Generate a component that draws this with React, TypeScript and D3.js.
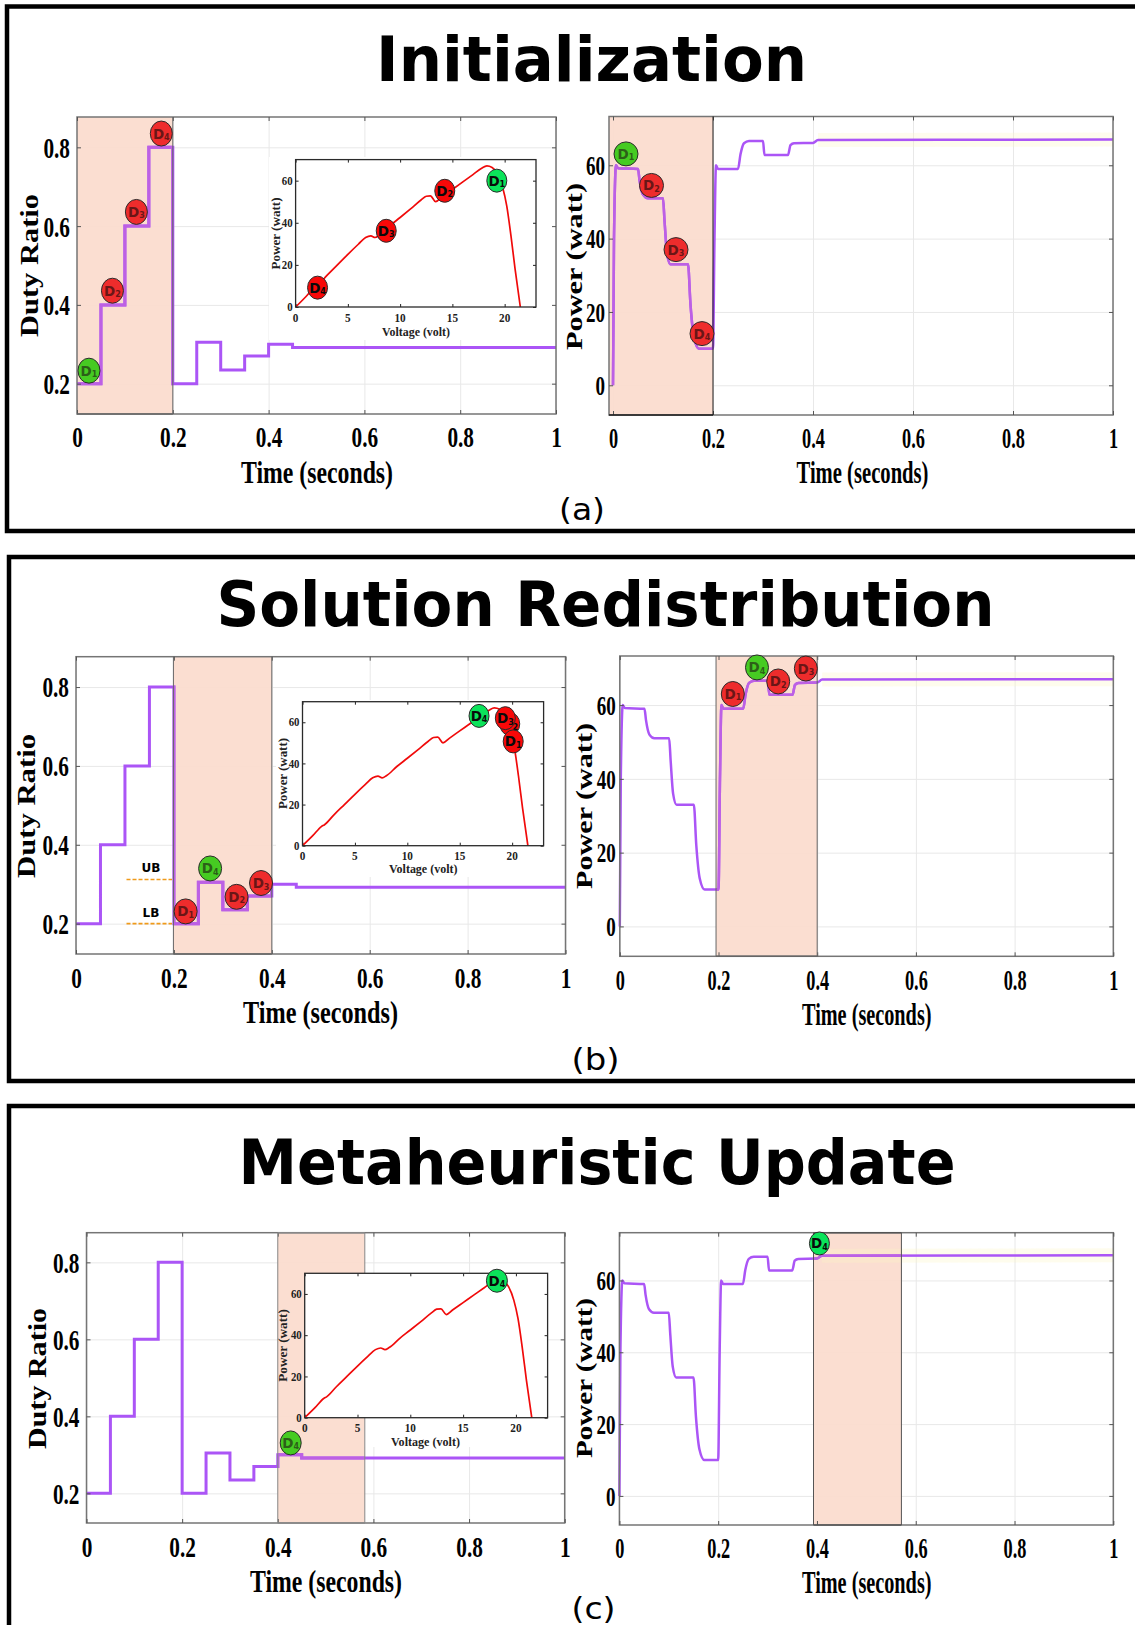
import { useEffect, useRef } from "react"
import * as d3 from "d3"

// values
const dutyTimes = [0, 0.05, 0.1, 0.15, 0.2, 0.25, 0.3, 0.35, 0.4, 0.45, 1]
const dutyValues = [0.2, 0.4, 0.6, 0.8, 0.2, 0.305, 0.235, 0.27, 0.3, 0.292, 0.292]

const powerTimes = [0, 0.002, 0.006, 0.01, 0.05, 0.053, 0.06, 0.07, 0.1, 0.103, 0.108, 0.115, 0.15, 0.155, 0.162, 0.172, 0.2, 0.203, 0.206, 0.21, 0.25, 0.255, 0.262, 0.272, 0.3, 0.303, 0.35, 0.355, 0.362, 0.4, 0.41, 1]
const powerValues = [0, 40, 60, 59.2, 59, 56, 52, 51, 51, 45, 36, 33, 33, 22, 13, 10, 10, 40, 60, 59, 59, 63, 66, 66.6, 66.6, 62.8, 62.8, 65.5, 66, 66.1, 66.9, 67]

const pvVoltage = [0, 1, 1.8, 2.1, 3, 4, 5, 6, 6.7, 7.2, 7.6, 8, 9, 10, 11, 12, 12.5, 12.9, 13.4, 14, 15, 16, 17, 17.8, 18.3, 18.8, 19.3, 19.8, 20.2, 20.6, 21, 21.5]
const pvPower = [0, 5, 9.3, 10.2, 15, 20, 25, 29.8, 33, 33.8, 33, 34, 38.5, 42.5, 46.6, 50.8, 52.6, 52.8, 50, 52.2, 55.8, 59.4, 63, 65.9, 67, 66.3, 63.5, 57, 48, 34, 18, 0]

const timeTicks = [0, 0.2, 0.4, 0.6, 0.8, 1]
const dutyTicks = [0.2, 0.4, 0.6, 0.8]
const powerTicks = [0, 20, 40, 60]
const voltTicks = [0, 5, 10, 15, 20]

const initDutyDots = [
    { n: "1", x: 0.025, y: 0.233, good: true },
    { n: "2", x: 0.074, y: 0.436 },
    { n: "3", x: 0.124, y: 0.636 },
    { n: "4", x: 0.176, y: 0.835 },
]
const initPowerDots = [
    { n: "1", x: 0.026, y: 63.1, good: true },
    { n: "2", x: 0.077, y: 54.5 },
    { n: "3", x: 0.126, y: 37 },
    { n: "4", x: 0.178, y: 14.1 },
]
const initPvDots = [
    { n: "4", x: 2.1, y: 9.2 },
    { n: "3", x: 8.67, y: 36.2 },
    { n: "2", x: 14.27, y: 55.2 },
    { n: "1", x: 19.25, y: 60, good: true },
]
const redistDutyDots = [
    { n: "1", x: 0.224, y: 0.231 },
    { n: "4", x: 0.274, y: 0.34, good: true },
    { n: "2", x: 0.328, y: 0.268 },
    { n: "3", x: 0.378, y: 0.303 },
]
const redistPowerDots = [
    { n: "1", x: 0.229, y: 63 },
    { n: "4", x: 0.278, y: 70.2, good: true },
    { n: "2", x: 0.321, y: 66.4 },
    { n: "3", x: 0.377, y: 69.9 },
]
const redistPvDots = [
    { n: "4", x: 16.84, y: 63.1, good: true },
    { n: "2", x: 19.77, y: 59.2 },
    { n: "3", x: 19.35, y: 62 },
    { n: "1", x: 20.1, y: 50.7 },
]
const updateDutyDots = [{ n: "4", x: 0.427, y: 0.331, good: true }]
const updatePowerDots = [{ n: "4", x: 0.405, y: 70.3, good: true }]
const updatePvDots = [{ n: "4", x: 18.2, y: 66.4, good: true }]

const upperBound = 0.312
const lowerBound = 0.2

const SERIF = "'Liberation Serif', serif"
const SANS = "'DejaVu Sans', sans-serif"
const PURPLE = "#ab55f6"
const PURPLE_BAND = "#bd60e4"

// ------ helpers ------

function squeezed(g, str, x, y, len, size, opts: any = {}) {
    const t = g.append("text")
        .attr("font-family", opts.family || SERIF)
        .attr("font-weight", opts.weight || "bold")
        .attr("font-size", size)
        .attr("fill", opts.fill || "#000")
        .attr("textLength", len)
        .attr("lengthAdjust", "spacingAndGlyphs")
        .text(str)
    if (opts.rotate) {
        t.attr("transform", `translate(${x},${y}) rotate(-90)`)
    } else {
        t.attr("x", x).attr("y", y)
    }
    return t
}

function drawDots(g, dots, x, y, rx, ry, bright) {
    dots.forEach(d => {
        const cx = x(d.x)
        const cy = y(d.y)
        const fill = d.good ? (bright ? "#0be35a" : "#46cb22") : (bright ? "#f80808" : "#ee2c2c")
        const ink = bright ? "#0a0a0a" : (d.good ? "#2c5f18" : "#6a1616")
        g.append("ellipse")
            .attr("cx", cx).attr("cy", cy)
            .attr("rx", rx).attr("ry", ry)
            .attr("fill", fill)
            .attr("stroke", "#2b2b2b")
            .attr("stroke-width", 1)
        const t = g.append("text")
            .attr("x", cx)
            .attr("y", cy + 5)
            .attr("text-anchor", "middle")
            .attr("font-family", SANS)
            .attr("font-weight", "bold")
            .attr("font-size", 13.5)
            .attr("fill", ink)
        t.append("tspan").text("D")
        t.append("tspan").attr("font-size", 8).attr("dy", 1.5).text(d.n)
    })
}

function frameTicks(g, x, y, box, color, len) {
    const pieces = [
        [d3.axisTop(x).tickValues(x.tickList), `translate(0,${box.top})`, -len],
        [d3.axisBottom(x).tickValues(x.tickList), `translate(0,${box.bottom})`, -len],
        [d3.axisLeft(y).tickValues(y.tickList), `translate(${box.left},0)`, -len],
        [d3.axisRight(y).tickValues(y.tickList), `translate(${box.right},0)`, -len],
    ]
    pieces.forEach(([axis, tr, size]: any) => {
        const a = g.append("g").attr("transform", tr)
            .call(axis.tickSize(size).tickFormat(() => ""))
        a.select(".domain").remove()
        a.selectAll(".tick line").attr("stroke", color).attr("stroke-width", 1)
    })
}

// one time-series panel: grid, band, inset background, curve, labels
function drawPanel(svg, p) {
    const g = svg.append("g")
    const { left, right, top, bottom } = p.box
    const x = d3.scaleLinear().domain(p.xDomain).range([left, right])
    const y = d3.scaleLinear().domain(p.yDomain).range([bottom, top])
    ;(x as any).tickList = timeTicks
    ;(y as any).tickList = p.yTicks

    g.append("rect")
        .attr("x", left).attr("y", top)
        .attr("width", right - left).attr("height", bottom - top)
        .attr("fill", "#fff")

    const xAxis = g.append("g")
        .attr("transform", `translate(0,${bottom})`)
        .call(d3.axisBottom(x).tickValues(timeTicks).tickFormat(d3.format("~g")).tickSize(-(bottom - top)))
    xAxis.select(".domain").remove()
    xAxis.selectAll(".tick line").attr("stroke", "#e8e8e8")
    xAxis.selectAll(".tick text")
        .attr("y", p.xLabelY - bottom)
        .attr("dy", 0)
        .attr("font-family", SERIF)
        .attr("font-weight", "bold")
        .attr("font-size", p.xLabelSize)
        .attr("fill", "#000")
        .attr("transform", `scale(${p.xLabelSqueeze},1)`)

    const yAxis = g.append("g")
        .attr("transform", `translate(${left},0)`)
        .call(d3.axisLeft(y).tickValues(p.yTicks).tickFormat(d3.format("~g")).tickSize(-(right - left)))
    yAxis.select(".domain").remove()
    yAxis.selectAll(".tick line").attr("stroke", "#e8e8e8")
    yAxis.selectAll(".tick text")
        .attr("x", -p.yLabelGap / p.yLabelSqueeze)
        .attr("dy", p.yLabelSize * 0.33)
        .attr("font-family", SERIF)
        .attr("font-weight", "bold")
        .attr("font-size", p.yLabelSize)
        .attr("fill", "#000")
        .attr("transform", `scale(${p.yLabelSqueeze},1)`)

    // shaded phase window
    const bx0 = x(p.band[0])
    const bx1 = x(p.band[1])
    g.append("rect")
        .attr("x", bx0).attr("y", top)
        .attr("width", bx1 - bx0).attr("height", bottom - top)
        .attr("fill", "#fbdbcd")
        .attr("fill-opacity", 0.92)

    if (p.inset) {
        p.inset.wipes.forEach(w => {
            g.append("rect")
                .attr("x", w[0]).attr("y", w[1])
                .attr("width", w[2] - w[0]).attr("height", w[3] - w[1])
                .attr("fill", "#fff")
        })
    }

    const line = d3.line().x(d => x(d[0])).y(d => y(d[1])).curve(p.curve)
    const pts = d3.zip(p.xs, p.ys)

    if (p.noiseFrom !== undefined) {
        g.append("path")
            .attr("d", line(pts.filter(d => d[0] >= p.noiseFrom)))
            .attr("fill", "none")
            .attr("stroke", "#fbf6c4")
            .attr("stroke-opacity", 0.3)
            .attr("stroke-width", 14)
    }

    g.append("path")
        .attr("d", line(pts))
        .attr("fill", "none")
        .attr("stroke", PURPLE)
        .attr("stroke-width", p.lineWidth)

    const clipId = `band-${p.id}`
    svg.append("clipPath").attr("id", clipId).append("rect")
        .attr("x", bx0).attr("y", top)
        .attr("width", bx1 - bx0).attr("height", bottom - top)
    g.append("path")
        .attr("d", line(pts))
        .attr("clip-path", `url(#${clipId})`)
        .attr("fill", "none")
        .attr("stroke", PURPLE_BAND)
        .attr("stroke-width", p.lineWidth)

    g.append("rect")
        .attr("x", left).attr("y", top)
        .attr("width", right - left).attr("height", bottom - top)
        .attr("fill", "none")
        .attr("stroke", "#757575")
        .attr("stroke-width", 1.5)
    frameTicks(g, x, y, p.box, "#555", 4)

    g.selectAll(".bandEdge")
        .data(p.bandEdges)
        .join("line")
        .attr("x1", d => x(d))
        .attr("x2", d => x(d))
        .attr("y1", top)
        .attr("y2", bottom)
        .attr("stroke", p.edgeColor)
        .attr("stroke-width", 1)
    ;(p.bandTopEdge ? [top, bottom] : [bottom]).forEach(yy => {
        g.append("line")
            .attr("x1", bx0).attr("x2", bx1)
            .attr("y1", yy).attr("y2", yy)
            .attr("stroke", p.edgeColor)
            .attr("stroke-width", 1.5)
    })

    if (p.bounds) {
        const bg = g.append("g")
        ;[upperBound, lowerBound].forEach(v => {
            bg.append("line")
                .attr("x1", p.bounds.x0).attr("x2", p.bounds.x1)
                .attr("y1", y(v)).attr("y2", y(v))
                .attr("stroke", "#f09a1a")
                .attr("stroke-width", 1.6)
                .attr("stroke-dasharray", "4 2")
        })
        ;[["UB", upperBound], ["LB", lowerBound]].forEach(([s, v]: any) => {
            bg.append("text")
                .attr("x", p.bounds.textX)
                .attr("y", y(v) - 7)
                .attr("text-anchor", "middle")
                .attr("font-family", SANS)
                .attr("font-weight", "bold")
                .attr("font-size", 12)
                .text(s)
        })
    }

    squeezed(svg, "Time (seconds)", p.xTitle[0], p.xTitle[1], p.xTitle[2], 31)
    squeezed(svg, p.yTitle.text, p.yTitle.x, p.yTitle.y, p.yTitle.len, p.yTitle.size, { rotate: true })

    drawDots(svg.append("g"), p.dots, x, y, p.dotR[0], p.dotR[1], p.brightDots)

    if (p.inset) drawInset(svg, p.inset)
}

function drawInset(svg, s) {
    const g = svg.append("g")
    const { left, right, top, bottom } = s.box
    const x = d3.scaleLinear().domain([0, 23]).range([left, right])
    const y = d3.scaleLinear().domain([0, 70]).range([bottom, top])
    ;(x as any).tickList = voltTicks
    ;(y as any).tickList = powerTicks

    g.append("rect")
        .attr("x", left).attr("y", top)
        .attr("width", right - left).attr("height", bottom - top)
        .attr("fill", "#fff")

    frameTicks(g, x, y, s.box, "#222", 3)

    const line = d3.line().x(d => x(d[0])).y(d => y(d[1])).curve(d3.curveMonotoneX)
    g.append("path")
        .attr("d", line(d3.zip(pvVoltage, pvPower)))
        .attr("fill", "none")
        .attr("stroke", "#f00a0a")
        .attr("stroke-width", 1.7)

    g.append("rect")
        .attr("x", left).attr("y", top)
        .attr("width", right - left).attr("height", bottom - top)
        .attr("fill", "none")
        .attr("stroke", "#2a2a2a")
        .attr("stroke-width", 1.3)

    const fmt = d3.format("~g")
    voltTicks.forEach(v => {
        const s2 = fmt(v)
        g.append("text")
            .attr("x", x(v)).attr("y", s.xTickY)
            .attr("text-anchor", "middle")
            .attr("font-family", SERIF)
            .attr("font-weight", "bold")
            .attr("font-size", 12.5)
            .attr("fill", "#222")
            .attr("textLength", s2.length * 5.6)
            .attr("lengthAdjust", "spacingAndGlyphs")
            .text(s2)
    })
    powerTicks.forEach(v => {
        const s2 = fmt(v)
        g.append("text")
            .attr("x", left - 3).attr("y", y(v) + 4.2)
            .attr("text-anchor", "end")
            .attr("font-family", SERIF)
            .attr("font-weight", "bold")
            .attr("font-size", 12.5)
            .attr("fill", "#222")
            .attr("textLength", s2.length * 5.4)
            .attr("lengthAdjust", "spacingAndGlyphs")
            .text(s2)
    })
    squeezed(g, "Voltage (volt)", s.xTitle[0], s.xTitle[1], s.xTitle[2], 13, { fill: "#222" })
    squeezed(g, "Power (watt)", s.yTitle[0], s.yTitle[1], s.yTitle[2], 12, { rotate: true, fill: "#222" })

    drawDots(g, s.dots, x, y, s.dotR[0], s.dotR[1], true)
}

// ------ panel layout ------

const dutyBase = { xs: dutyTimes, ys: dutyValues, yDomain: [0.123, 0.877], yTicks: dutyTicks, curve: d3.curveStepAfter, lineWidth: 3, xLabelSize: 30, xLabelSqueeze: 0.71, yLabelSize: 30, yLabelSqueeze: 0.71, yLabelGap: 7 }
const powerBase = { xs: powerTimes, ys: powerValues, yDomain: [-8.1, 73.3], yTicks: powerTicks, curve: d3.curveMonotoneX, lineWidth: 2.5, noiseFrom: 0.41, xLabelSize: 30, xLabelSqueeze: 0.61, yLabelSize: 28, yLabelSqueeze: 0.68, yLabelGap: 4, brightDots: false }

const panels = [
    {
        ...dutyBase, id: "a1",
        box: { left: 77, right: 556, top: 117, bottom: 414 }, xDomain: [0, 1],
        band: [0, 0.2], bandEdges: [0.2], edgeColor: "#666", dots: initDutyDots, dotR: [11, 12.5],
        xLabelY: 447, xTitle: [241, 483, 152],
        yTitle: { text: "Duty Ratio", x: 38, y: 337, len: 143, size: 25 },
        inset: {
            box: { left: 295.6, right: 536, top: 159.6, bottom: 307 },
            wipes: [[269, 157, 556, 340]],
            xTickY: 322, xTitle: [382, 336, 68], yTitle: [279.5, 269.5, 72],
            dots: initPvDots, dotR: [10, 11.5],
        },
    },
    {
        ...powerBase, id: "a2",
        box: { left: 609, right: 1113, top: 116.5, bottom: 415 }, xDomain: [-0.008, 1],
        band: [-0.008, 0.2], bandEdges: [0.2], edgeColor: "#1c1c1c", dots: initPowerDots, dotR: [12, 12],
        xLabelY: 448, xTitle: [796.5, 483, 132],
        yTitle: { text: "Power (watt)", x: 582, y: 350, len: 167, size: 23 },
    },
    {
        ...dutyBase, id: "b1",
        box: { left: 76, right: 565.5, top: 656.7, bottom: 954 }, xDomain: [0, 1],
        band: [0.199, 0.4], bandEdges: [0.199, 0.4], edgeColor: "#666", dots: redistDutyDots, dotR: [11.5, 12.5],
        xLabelY: 988, xTitle: [243, 1023, 155],
        yTitle: { text: "Duty Ratio", x: 35, y: 878, len: 144, size: 25 },
        bounds: { x0: 126.5, x1: 172, textX: 151 },
        inset: {
            box: { left: 302.5, right: 543.6, top: 701.7, bottom: 845.7 },
            wipes: [[276, 700, 565, 877]],
            xTickY: 860, xTitle: [389, 873, 68.5], yTitle: [286.5, 809, 71],
            dots: redistPvDots, dotR: [10, 11.5],
        },
    },
    {
        ...powerBase, id: "b2",
        box: { left: 619.8, right: 1113.3, top: 656, bottom: 956.3 }, xDomain: [0, 1],
        band: [0.195, 0.4], bandEdges: [0.195, 0.4], edgeColor: "#666", dots: redistPowerDots, dotR: [11.5, 12.5],
        xLabelY: 990, xTitle: [802, 1025, 129.5],
        yTitle: { text: "Power (watt)", x: 592, y: 889, len: 166, size: 23 },
    },
    {
        ...dutyBase, id: "c1", bandTopEdge: true,
        box: { left: 86.5, right: 564.7, top: 1232.7, bottom: 1523 }, xDomain: [0, 1],
        band: [0.4, 0.582], bandEdges: [0.4, 0.582], edgeColor: "#888", dots: updateDutyDots, dotR: [10.5, 12],
        xLabelY: 1557, xTitle: [250, 1592, 152],
        yTitle: { text: "Duty Ratio", x: 46, y: 1449, len: 141, size: 25 },
        inset: {
            box: { left: 304.7, right: 547.6, top: 1273.3, bottom: 1417.7 },
            wipes: [[364.7, 1273, 548, 1447]],
            xTickY: 1432, xTitle: [391, 1446, 69], yTitle: [286.5, 1381.7, 72.5],
            dots: updatePvDots, dotR: [10.5, 11.5],
        },
    },
    {
        ...powerBase, id: "c2", brightDots: true, bandTopEdge: true,
        box: { left: 619.4, right: 1113.3, top: 1232.7, bottom: 1525 }, xDomain: [0, 1],
        band: [0.393, 0.571], bandEdges: [0.393, 0.571], edgeColor: "#555", dots: updatePowerDots, dotR: [10, 11.5],
        xLabelY: 1558, xTitle: [802, 1593, 129.5],
        yTitle: { text: "Power (watt)", x: 592, y: 1458, len: 160, size: 23 },
    },
]

const titles = [
    { text: "Initialization", x: 376, y: 81, len: 431, boxTop: 6.5, boxBottom: 531 },
    { text: "Solution Redistribution", x: 216.5, y: 626, len: 778, boxTop: 557, boxBottom: 1081 },
    { text: "Metaheuristic Update", x: 238.5, y: 1184, len: 717, boxTop: 1106, boxBottom: 1700 },
]
const captions = [
    { text: "(a)", x: 559, y: 520, len: 46 },
    { text: "(b)", x: 571.5, y: 1070, len: 48 },
    { text: "(c)", x: 571.5, y: 1619, len: 44 },
]

export default function App() {
    const ref = useRef(null)

    useEffect(() => {
        const svg = d3.select(ref.current)
        svg.selectAll("*").remove()

        svg.append("rect").attr("width", 1135).attr("height", 1625).attr("fill", "#fff")

        titles.forEach((t, i) => {
            svg.append("rect")
                .attr("x", i === 0 ? 7 : 9)
                .attr("y", t.boxTop)
                .attr("width", 1200)
                .attr("height", t.boxBottom - t.boxTop)
                .attr("fill", "none")
                .attr("stroke", "#000")
                .attr("stroke-width", 4.5)
            squeezed(svg, t.text, t.x, t.y, t.len, 62, { family: SANS })
        })

        panels.forEach(p => drawPanel(svg, p))

        captions.forEach(c => {
            squeezed(svg, c.text, c.x, c.y, c.len, 31, { family: SANS, weight: "normal" })
        })
    }, [])

    return (
        <svg
            ref={ref}
            width={1135}
            height={1625}
            style={{ position: "absolute", left: 0, top: 0, display: "block" }}
        />
    )
}
